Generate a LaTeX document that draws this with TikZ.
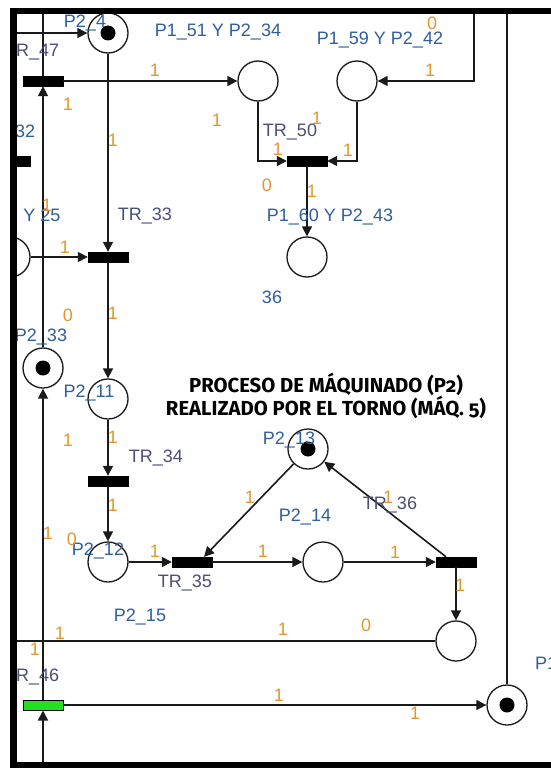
\documentclass[tikz,border=0pt]{standalone}
\usepackage{fontspec}
\setmainfont{Liberation Sans}
\newfontfamily\titlefont[Numbers=OldStyle]{Fira Sans}
\usetikzlibrary{arrows.meta}
\definecolor{weightorange}{HTML}{E3962E}
\definecolor{nameblue}{HTML}{2F5E9E}
\definecolor{transgray}{HTML}{4B4F78}
\definecolor{firegreen}{HTML}{22E022}
\definecolor{darkline}{HTML}{1A1A1A}
\tikzset{
  place/.style={circle, draw=darkline, line width=1.3pt, minimum size=40pt, inner sep=0pt},
  marked/.style={place, path picture={\fill[black] (path picture bounding box.center) circle (7.5pt);}},
  trans/.style={rectangle, draw=black, fill=black, minimum width=40pt, minimum height=10pt, inner sep=0pt},
  trans-on/.style={trans, fill=firegreen, line width=1pt},
  weight/.style={font=\fontsize{18}{18}\selectfont, text=weightorange, inner sep=0pt},
  pname/.style={font=\fontsize{18}{18}\selectfont, text=nameblue, inner sep=0pt},
  tname/.style={pname, text=transgray},
  flow/.style={-{Triangle[length=10pt, width=10pt]}, line width=1.6pt, draw=darkline},
  wire/.style={line width=1.6pt, draw=darkline},
  title-text/.style={font=\titlefont\bfseries\fontsize{20.3}{23}\selectfont, align=center}
}

\begin{document}
\begin{tikzpicture}[x=1pt, y=-1pt]
\useasboundingbox (0,0) rectangle (551,768);
\fill[white] (0,0) rectangle (551,768);

\begin{scope}
\clip (17,14) rectangle (551,762);

% free ends at the frame
\coordinate (topA) at (43,14);
\coordinate (topB) at (474,14);
\coordinate (topC) at (507,14);
\coordinate (leftA) at (17,33);
\coordinate (leftB) at (17,641);
\coordinate (botA) at (43,762);

% places
\node[marked] (p24) at (108,33) {};
\node[place] (p151) at (258,81) {};
\node[place] (p159) at (357,81) {};
\node[place] (p160) at (307,257) {};
\node[place] (pleft) at (10,257) {};
\node[marked] (p233) at (43,368) {};
\node[place] (p211) at (108,399) {};
\node[place] (p212) at (108,562) {};
\node[marked] (p213) at (308,449) {};
\node[place] (p214) at (323,562) {};
\node[place] (p215) at (456,641) {};
\node[marked] (pbr) at (507,705) {};

% transitions
\node[trans] (tr47) at (43,81) {};
\node[trans] (tr32) at (10,161) {};
\node[trans] (tr50) at (307,161) {};
\node[trans] (tr33) at (108,257) {};
\node[trans] (tr34) at (108,481) {};
\node[trans] (tr35) at (192,562) {};
\node[trans] (tr36) at (456,562) {};
\node[trans-on] (tr48) at (43,705) {};

% arcs
\draw[flow] (leftA) -- (p24);
\draw[wire] (topA) -- (tr47);
\draw[flow] (tr47) -- (p151);
\draw[flow] (p24) -- (tr33);
\draw[flow] (topB) |- (p159);
\draw[flow] (p151) |- (tr50);
\draw[flow] (p159) |- (tr50);
\draw[flow] (tr50) -- (p160);
\draw[flow] (pleft) -- (tr33);
\draw[flow] (tr33) -- (p211);
\draw[flow] (p211) -- (tr34);
\draw[flow] (tr34) -- (p212);
\draw[flow] (p212) -- (tr35);
\draw[flow] (p213) -- ([xshift=12pt]tr35.north);
\draw[flow] (tr35) -- (p214);
\draw[flow] (p214) -- (tr36);
\draw[flow] ([xshift=-10pt]tr36.north) -- (p213);
\draw[flow] (tr36) -- (p215);
\draw[wire] (p215) -- (leftB);
\draw[flow] (p233) -- (tr47);
\draw[flow] (tr48) -- (p233);
\draw[flow] (botA) -- (tr48);
\draw[flow] (tr48) -- (pbr);
\draw[wire] (topC) -- (pbr);

% names
\node[pname] (l24) at (85,23) {P2\_4};
\node[pname] (l151) at (218,32) {P1\_51 Y P2\_34};
\node[pname] (l159) at (380,40) {P1\_59 Y P2\_42};
\node[tname, anchor=west] (l47) at (16,52) {R\_47};
\node[pname, anchor=west] (l32) at (15,131) {32};
\node[tname] (l50) at (290,132) {TR\_50};
\node[pname] (l160) at (330,217) {P1\_60 Y P2\_43};
\node[pname] (l25) at (42,215) {Y 25};
\node[tname] (l33) at (145,216) {TR\_33};
\node[pname] (l36n) at (272,297) {36};
\node[pname] (l233) at (41,337) {P2\_33};
\node[pname] (l211) at (89,393) {P2\_11};
\node[tname] (l34) at (156,458) {TR\_34};
\node[pname] (l213) at (289,440) {P2\_13};
\node[pname] (l214) at (305,517) {P2\_14};
\node[tname] (l36) at (390,505) {TR\_36};
\node[pname] (l212) at (98,551) {P2\_12};
\node[tname] (l35) at (185,583) {TR\_35};
\node[pname] (l215) at (140,617) {P2\_15};
\node[tname, anchor=west] (l48) at (16,677) {R\_46};
\node[pname, anchor=west] (lp1) at (535,663) {P1};

% weights
\node[weight] (w1) at (155,70) {1};
\node[weight] (w2) at (68,104) {1};
\node[weight] (w3) at (217,120) {1};
\node[weight] (w4) at (113,140) {1};
\node[weight] (w5) at (278,149) {1};
\node[weight] (w6) at (348,150) {1};
\node[weight] (w7) at (317,118) {1};
\node[weight] (w8) at (267,185) {0};
\node[weight] (w9) at (432,23) {0};
\node[weight] (w10) at (430,70) {1};
\node[weight] (w11) at (312,191) {1};
\node[weight] (w12) at (47,205) {1};
\node[weight] (w13) at (65,247) {1};
\node[weight] (w14) at (68,315) {0};
\node[weight] (w15) at (113,313) {1};
\node[weight] (w16) at (68,440) {1};
\node[weight] (w17) at (113,437) {1};
\node[weight] (w18) at (113,505) {1};
\node[weight] (w19) at (48,533) {1};
\node[weight] (w20) at (72,539) {0};
\node[weight] (w21) at (155,551) {1};
\node[weight] (w22) at (250,497) {1};
\node[weight] (w23) at (263,551) {1};
\node[weight] (w24) at (395,552) {1};
\node[weight] (w25) at (388,497) {1};
\node[weight] (w26) at (460,585) {1};
\node[weight] (w27) at (60,633) {1};
\node[weight] (w28) at (35,649) {1};
\node[weight] (w29) at (283,629) {1};
\node[weight] (w30) at (366,625) {0};
\node[weight] (w31) at (279,695) {1};
\node[weight] (w32) at (415,713) {1};

\node[title-text] (title) at (326,396) {PROCESO DE MÁQUINADO (P2)\\REALIZADO POR EL TORNO (MÁQ. 5)};
\end{scope}

% frame
\fill[black] (10,8) rectangle (17,768);
\fill[black] (10,8) rectangle (551,14);
\fill[black] (10,762) rectangle (551,768);

\end{tikzpicture}
\end{document}
